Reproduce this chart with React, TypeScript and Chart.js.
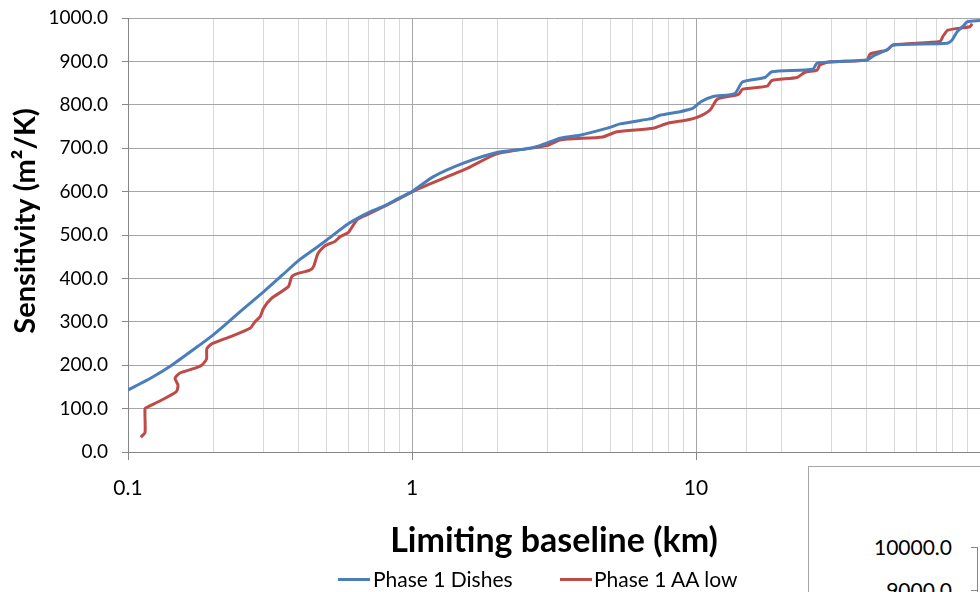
import React, { useEffect, useRef } from "react";
import { Chart, registerables } from "chart.js";

Chart.register(...registerables);

// ---- data ----
const dishesX = [0.1, 0.12, 0.1426, 0.17, 0.1996, 0.2196, 0.25, 0.3, 0.35, 0.4, 0.45, 0.5, 0.6, 0.7, 0.8, 0.9, 1.0, 1.186, 1.51, 1.99, 2.5, 2.82, 3.32, 3.9, 4.98, 5.4, 6.8, 7.06, 7.46, 8.78, 9.29, 9.75, 10.4, 11.5, 13.7, 14.6, 17.5, 18.5, 25.8, 26.7, 40, 42, 47.4, 49.4, 76.6, 79.7, 83, 88, 90, 100];
const dishesY = [143, 170, 200, 236, 270, 293, 325, 369, 408, 442, 466, 488, 527, 551, 567, 585, 600, 634, 665, 690, 698, 706, 723, 730, 748, 756, 767, 769, 776, 784, 788, 792, 807, 819, 826, 853, 863, 876, 882, 896, 903, 912, 928, 938, 942, 949, 968, 984, 991, 994];

const aaLowX = [0.1109, 0.1148, 0.1148, 0.1176, 0.13, 0.148, 0.15, 0.1464, 0.1524, 0.17, 0.1817, 0.189, 0.1895, 0.197, 0.23, 0.269, 0.28, 0.292, 0.3, 0.32, 0.367, 0.377, 0.39, 0.437, 0.45, 0.467, 0.494, 0.535, 0.558, 0.597, 0.64, 0.69, 0.814, 1.0, 1.067, 1.57, 1.99, 2.99, 3.32, 4.7, 5.27, 7.06, 7.9, 9.29, 10.08, 11.2, 11.9, 14.1, 14.6, 17.8, 18.5, 22.7, 24.2, 26.7, 27.3, 29.6, 40, 41, 47, 49.4, 72.3, 74.1, 77.1, 92.2, 93.8];
const aaLowY = [34, 45, 100, 104, 118, 139, 154, 170, 182, 192, 200, 214, 238, 249, 266, 285, 300, 312, 331, 354, 381, 404, 410, 419, 427, 458, 475, 485, 496, 506, 535, 546, 569, 599, 608, 654, 687, 706, 719, 726, 738, 746, 757, 765, 771, 788, 813, 824, 836, 843, 856, 863, 875, 880, 892, 899, 903, 917, 926, 938, 946, 958, 972, 980, 987];

const seriesNames = ["Phase 1 Dishes", "Phase 1 AA low"];
const seriesColors = ["#4a7ebb", "#be4b48"];
const xTitle = "Limiting baseline (km)";
const yTitle = "Sensitivity (m²/K)";
const yMin = 0;
const yMax = 1000;
const yStep = 100;
const xMin = 0.1;
const xMax = 100;
const insetTicks = ["10000.0", "9000.0"];

const FONT = "Lato, 'Open Sans', 'DejaVu Sans', sans-serif";

function isDecade(v: number) {
  const l = Math.log10(v);
  return Math.abs(l - Math.round(l)) < 1e-6;
}

export default function App() {
  const ref = useRef<HTMLCanvasElement | null>(null);

  useEffect(() => {
    if (!ref.current) return;
    const toPts = (xs: number[], ys: number[]) => xs.map((x, i) => ({ x, y: ys[i] }));
    const chart = new Chart(ref.current, {
      type: "line",
      data: {
        datasets: [
          {
            label: seriesNames[0],
            data: toPts(dishesX, dishesY),
            borderColor: seriesColors[0],
            backgroundColor: seriesColors[0],
            borderWidth: 3,
            pointRadius: 0,
            tension: 0.2,
          },
          {
            label: seriesNames[1],
            data: toPts(aaLowX, aaLowY),
            borderColor: seriesColors[1],
            backgroundColor: seriesColors[1],
            borderWidth: 3,
            pointRadius: 0,
            tension: 0.2,
          },
        ],
      },
      options: {
        animation: false,
        responsive: false,
        events: [],
        layout: { padding: { left: 0, right: 0, top: 18, bottom: 0 } },
        plugins: {
          legend: { display: false },
          tooltip: { enabled: false },
        },
        scales: {
          x: {
            type: "logarithmic",
            min: xMin,
            max: xMax,
            afterFit: (s: any) => {
              s.height = 140;
              s.paddingLeft = 0;
              s.paddingRight = 0;
            },
            border: { display: true, color: "#868686", width: 1 },
            grid: {
              color: (c: any) => (c.tick && isDecade(c.tick.value) ? "#a6a6a6" : "#d9d9d9"),
              tickColor: (c: any) => (c.tick && isDecade(c.tick.value) ? "#868686" : "rgba(0,0,0,0)"),
              tickLength: 8,
              lineWidth: 1,
            },
            ticks: {
              autoSkip: false,
              maxRotation: 0,
              padding: 16,
              color: "#000",
              font: { family: FONT, size: 21 },
              callback: (v: any) => {
                const n = Number(v);
                if (isDecade(n) && n < xMax * 0.99) return String(Number(n.toPrecision(3)));
                return "";
              },
            },
            title: {
              display: true,
              text: xTitle,
              color: "#000",
              font: { family: FONT, size: 34, weight: "bold" },
              padding: { top: 0, bottom: 31 },
            },
          },
          y: {
            type: "linear",
            min: yMin,
            max: yMax,
            afterFit: (s: any) => {
              s.width = 128;
              s.paddingTop = 0;
              s.paddingBottom = 0;
            },
            border: { display: true, color: "#868686", width: 1 },
            grid: { color: "#a6a6a6", tickColor: "#868686", tickLength: 6, lineWidth: 1 },
            ticks: {
              stepSize: yStep,
              padding: 14,
              color: "#000",
              font: { family: FONT, size: 19 },
              callback: (v: any) => Number(v).toFixed(1),
            },
            title: {
              display: true,
              text: "    " + yTitle,
              color: "#000",
              font: { family: FONT, size: 29, weight: "bold" },
              padding: { top: 8, bottom: 0 },
            },
          },
        },
      },
    } as any);
    return () => chart.destroy();
  }, []);

  const legendText: React.CSSProperties = {
    position: "absolute",
    top: 566,
    fontFamily: FONT,
    fontSize: 21,
    lineHeight: "26px",
    color: "#000",
    whiteSpace: "nowrap",
  };
  const legendLine = (left: number, color: string): React.CSSProperties => ({
    position: "absolute",
    left,
    top: 578,
    width: 32,
    height: 3,
    background: color,
  });
  const insetLabel = (top: number): React.CSSProperties => ({
    position: "absolute",
    right: 980 - 952,
    top: top - 13,
    fontFamily: FONT,
    fontSize: 21,
    lineHeight: "26px",
    color: "#000",
    whiteSpace: "nowrap",
  });

  return (
    <div
      style={{
        position: "fixed",
        left: 0,
        top: 0,
        width: 980,
        height: 592,
        overflow: "hidden",
        background: "#fff",
      }}
    >
      <canvas ref={ref} width={980} height={592} style={{ position: "absolute", left: 0, top: 0, width: 980, height: 592 }} />
      <div style={legendLine(338, seriesColors[0])} />
      <div style={{ ...legendText, left: 373 }}>{seriesNames[0]}</div>
      <div style={legendLine(560, seriesColors[1])} />
      <div style={{ ...legendText, left: 594 }}>{seriesNames[1]}</div>
      <div
        style={{
          position: "absolute",
          left: 808,
          top: 466,
          width: 400,
          height: 300,
          border: "1px solid #a6a6a6",
          background: "#fff",
        }}
      />
      <div style={insetLabel(547)}>{insetTicks[0]}</div>
      <div style={insetLabel(590)}>{insetTicks[1]}</div>
      <div style={{ position: "absolute", left: 977, top: 547, width: 1, height: 60, background: "#868686" }} />
      <div style={{ position: "absolute", left: 971, top: 547, width: 6, height: 1, background: "#868686" }} />
      <div style={{ position: "absolute", left: 971, top: 590, width: 6, height: 1, background: "#868686" }} />
    </div>
  );
}
